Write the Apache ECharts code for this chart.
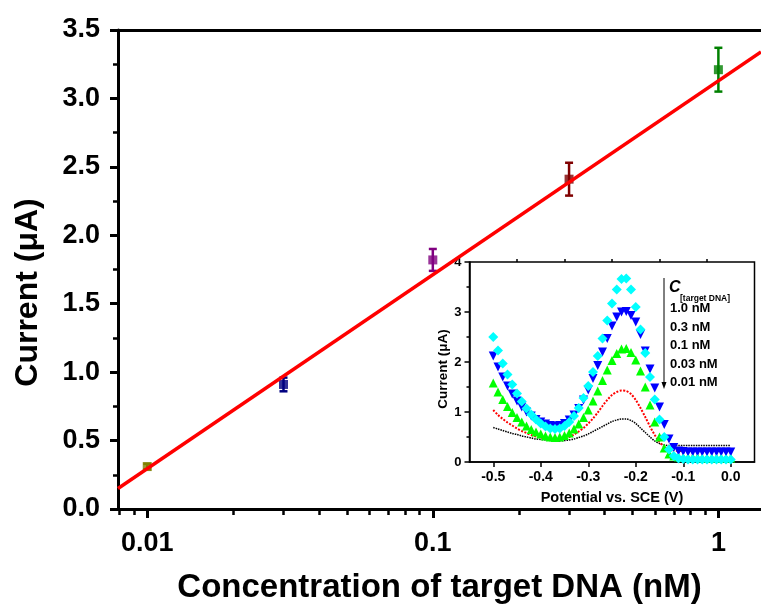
<!DOCTYPE html>
<html>
<head>
<meta charset="utf-8">
<script src="https://cdn.jsdelivr.net/npm/echarts@6/dist/echarts.min.js"></script>
<style>
html,body{margin:0;padding:0;background:#fff;}
#main{width:761px;height:611px;}
</style>
</head>
<body>
<div id="main"></div>
<script>
// 主图：浓度与电流
var conc = [0.01, 0.03, 0.1, 0.3, 1];
var current = [0.31, 0.91, 1.82, 2.41, 3.21];
var errs = [0.02, 0.05, 0.08, 0.12, 0.16];
var pointColors = ['#808000', '#000080', '#800080', '#800000', '#008000'];
// 拟合直线两端
var fitX = [0.0079, 1.41];
var fitY = [0.15, 3.34];
var xMajor = [0.01, 0.1, 1];
var xMinor = [0.008, 0.009, 0.02, 0.03, 0.04, 0.05, 0.06, 0.07, 0.08, 0.09,
    0.2, 0.3, 0.4, 0.5, 0.6, 0.7, 0.8, 0.9];

// 插图：DPV 曲线
var potential = [-0.50, -0.49, -0.48, -0.47, -0.46, -0.45, -0.44, -0.43, -0.42, -0.41,
    -0.40, -0.39, -0.38, -0.37, -0.36, -0.35, -0.34, -0.33, -0.32, -0.31,
    -0.30, -0.29, -0.28, -0.27, -0.26, -0.25, -0.24, -0.23, -0.22, -0.21,
    -0.20, -0.19, -0.18, -0.17, -0.16, -0.15, -0.14, -0.13, -0.12, -0.11,
    -0.10, -0.09, -0.08, -0.07, -0.06, -0.05, -0.04, -0.03, -0.02, -0.01, 0.00];
var c001 = [0.69, 0.66, 0.63, 0.60, 0.57, 0.55, 0.52, 0.50, 0.48, 0.46, 0.45,
    0.44, 0.43, 0.42, 0.42, 0.43, 0.44, 0.46, 0.49, 0.52, 0.56,
    0.61, 0.66, 0.71, 0.76, 0.81, 0.84, 0.86, 0.86, 0.83, 0.77,
    0.68, 0.59, 0.50, 0.42, 0.37, 0.34, 0.33, 0.33, 0.33, 0.33,
    0.33, 0.33, 0.33, 0.33, 0.33, 0.33, 0.33, 0.33, 0.33, 0.33];
var c003 = [1.04, 0.94, 0.86, 0.79, 0.73, 0.67, 0.62, 0.58, 0.54, 0.51, 0.49,
    0.47, 0.46, 0.45, 0.46, 0.48, 0.50, 0.55, 0.61, 0.68, 0.77,
    0.87, 0.99, 1.12, 1.24, 1.34, 1.40, 1.43, 1.42, 1.36, 1.24,
    1.08, 0.90, 0.71, 0.54, 0.40, 0.30, 0.25, 0.23, 0.22, 0.22,
    0.22, 0.22, 0.22, 0.22, 0.22, 0.22, 0.22, 0.22, 0.22, 0.22];
var c01 = [1.58, 1.40, 1.25, 1.11, 0.99, 0.89, 0.80, 0.72, 0.65, 0.60, 0.56,
    0.52, 0.50, 0.49, 0.50, 0.53, 0.58, 0.66, 0.76, 0.89, 1.04,
    1.22, 1.42, 1.63, 1.84, 2.03, 2.17, 2.26, 2.27, 2.19, 2.04,
    1.82, 1.50, 1.14, 0.80, 0.50, 0.28, 0.16, 0.12, 0.10, 0.09,
    0.09, 0.09, 0.09, 0.08, 0.08, 0.08, 0.08, 0.08, 0.08, 0.08];
var c03 = [2.12, 1.90, 1.70, 1.52, 1.36, 1.22, 1.10, 1.00, 0.92, 0.85, 0.80,
    0.76, 0.73, 0.72, 0.73, 0.77, 0.84, 0.94, 1.07, 1.24, 1.44,
    1.67, 1.93, 2.20, 2.47, 2.72, 2.90, 3.00, 3.01, 2.93, 2.80,
    2.55, 2.22, 1.86, 1.48, 1.10, 0.75, 0.46, 0.29, 0.22, 0.21,
    0.20, 0.20, 0.20, 0.20, 0.20, 0.20, 0.20, 0.20, 0.20, 0.20];
var c1 = [2.50, 2.23, 1.97, 1.75, 1.55, 1.37, 1.21, 1.07, 0.95, 0.85, 0.77,
    0.71, 0.67, 0.66, 0.67, 0.72, 0.80, 0.92, 1.08, 1.28, 1.52,
    1.80, 2.12, 2.47, 2.83, 3.17, 3.45, 3.66, 3.67, 3.45, 3.10,
    2.65, 2.18, 1.70, 1.25, 0.85, 0.50, 0.25, 0.12, 0.07, 0.06,
    0.05, 0.05, 0.05, 0.05, 0.05, 0.05, 0.05, 0.05, 0.05, 0.05];
var insetMajor = [-0.5, -0.4, -0.3, -0.2, -0.1, 0.0];
var insetMinor = [-0.45, -0.35, -0.25, -0.15, -0.05];
var legendLines = ['1.0 nM', '0.3 nM', '0.1 nM', '0.03 nM', '0.01 nM'];

var FONT = '"Liberation Sans", Arial, sans-serif';

function pairs(xs, ys) {
    var out = [];
    for (var i = 0; i < xs.length; i++) out.push([xs[i], ys[i]]);
    return out;
}

var myChart = echarts.init(document.getElementById('main'));

var pointData = [];
for (var i = 0; i < conc.length; i++) {
    pointData.push({value: [conc[i], current[i]], itemStyle: {color: pointColors[i]}});
}
var errData = [];
for (var j = 0; j < conc.length; j++) {
    errData.push([conc[j], current[j], errs[j]]);
}

var mainX = {
    type: 'log', gridIndex: 0, min: 0.0079, max: 1.41, logBase: 10
};

var option = {
    animation: false,
    backgroundColor: '#fff',
    grid: [
        {left: 118, top: 30, right: 0, bottom: 102},
        {left: 469.5, top: 262, width: 285, height: 200, show: true,
            backgroundColor: '#fff', borderColor: '#000', borderWidth: 1.5}
    ],
    xAxis: [
        Object.assign({}, mainX, {
            position: 'bottom',
            name: 'Concentration of target DNA (nM)',
            nameLocation: 'middle', nameGap: 62,
            nameTextStyle: {fontFamily: FONT, fontWeight: 'bold', fontSize: 33, color: '#000'},
            axisLine: {lineStyle: {color: '#000', width: 3}},
            axisTick: {customValues: xMajor, length: 9, lineStyle: {width: 3, color: '#000'}},
            axisLabel: {customValues: xMajor, margin: 21, fontFamily: FONT, fontWeight: 'bold',
                fontSize: 27, color: '#000', formatter: function (v) { return String(+v.toPrecision(3)); }},
            splitLine: {show: false}
        }),
        Object.assign({}, mainX, {
            position: 'bottom',
            axisLine: {show: false},
            axisTick: {customValues: xMinor, length: 6, lineStyle: {width: 2.5, color: '#000'}},
            axisLabel: {show: false},
            splitLine: {show: false}
        }),
        Object.assign({}, mainX, {
            position: 'top',
            axisLine: {lineStyle: {color: '#000', width: 3}},
            axisTick: {show: false},
            axisLabel: {show: false},
            splitLine: {show: false}
        }),
        {
            type: 'value', gridIndex: 1, min: -0.55, max: 0.05,
            name: 'Potential vs. SCE (V)', nameLocation: 'middle', nameGap: 28,
            nameTextStyle: {fontFamily: FONT, fontWeight: 'bold', fontSize: 14.5, color: '#000'},
            axisLine: {onZero: false, lineStyle: {color: '#000', width: 1.5}},
            axisTick: {customValues: insetMajor, length: 5, lineStyle: {width: 1.5, color: '#000'}},
            axisLabel: {customValues: insetMajor, margin: 8, fontFamily: FONT, fontWeight: 'bold',
                fontSize: 14, color: '#000', formatter: function (v) { return v.toFixed(1); }},
            splitLine: {show: false}
        },
        {
            type: 'value', gridIndex: 1, min: -0.55, max: 0.05,
            axisLine: {show: false, onZero: false},
            axisTick: {customValues: insetMinor, length: 3, lineStyle: {width: 1.5, color: '#000'}},
            axisLabel: {show: false},
            splitLine: {show: false}
        }
    ],
    yAxis: [
        {
            type: 'value', gridIndex: 0, min: 0, max: 3.5, interval: 0.5,
            name: 'Current (\u03bcA)', nameLocation: 'middle', nameGap: 74,
            nameTextStyle: {fontFamily: FONT, fontWeight: 'bold', fontSize: 32, color: '#000',
                padding: [0, 46, 0, 0]},
            axisLine: {show: true, onZero: false, lineStyle: {color: '#000', width: 3}},
            axisTick: {show: true, length: 8, lineStyle: {width: 3, color: '#000'}},
            minorTick: {show: true, splitNumber: 2, length: 5, lineStyle: {width: 2.5, color: '#000'}},
            axisLabel: {margin: 18, fontFamily: FONT, fontWeight: 'bold', fontSize: 27, color: '#000',
                formatter: function (v) { return v.toFixed(1); }},
            splitLine: {show: false}
        },
        {
            type: 'value', gridIndex: 1, min: 0, max: 4, interval: 1,
            name: 'Current (\u03bcA)', nameLocation: 'middle', nameGap: 19,
            nameTextStyle: {fontFamily: FONT, fontWeight: 'bold', fontSize: 13.5, color: '#000',
                padding: [0, 14, 0, 0]},
            axisLine: {show: true, onZero: false, lineStyle: {color: '#000', width: 1.5}},
            axisTick: {show: true, length: 5, lineStyle: {width: 1.5, color: '#000'}},
            minorTick: {show: true, splitNumber: 2, length: 3, lineStyle: {width: 1.5, color: '#000'}},
            axisLabel: {margin: 8, fontFamily: FONT, fontWeight: 'bold', fontSize: 13, color: '#000'},
            splitLine: {show: false}
        }
    ],
    graphic: [
        {type: 'line', z: 100, shape: {x1: 664, y1: 278, x2: 664, y2: 384},
            style: {stroke: '#000', lineWidth: 1}},
        {type: 'polygon', z: 100, shape: {points: [[661.5, 382], [666.5, 382], [664, 389]]},
            style: {fill: '#000'}},
        {type: 'text', z: 100, left: 669, top: 280,
            style: {text: 'C', fontFamily: FONT, fontWeight: 'bold', fontStyle: 'italic', fontSize: 16, fill: '#000'}},
        {type: 'text', z: 100, left: 680, top: 294,
            style: {text: '[target DNA]', fontFamily: FONT, fontWeight: 'bold', fontSize: 8.5, fill: '#000'}}
    ],
    series: [
        {
            type: 'custom', xAxisIndex: 0, yAxisIndex: 0, z: 3,
            data: errData,
            renderItem: function (params, api) {
                var x = api.value(0), y = api.value(1), e = api.value(2);
                var top = api.coord([x, y + e]);
                var bot = api.coord([x, y - e]);
                var c = pointColors[params.dataIndex];
                var st = {stroke: c, lineWidth: 2.5};
                return {
                    type: 'group',
                    children: [
                        {type: 'line', shape: {x1: top[0], y1: top[1], x2: bot[0], y2: bot[1]}, style: st},
                        {type: 'line', shape: {x1: top[0] - 4, y1: top[1], x2: top[0] + 4, y2: top[1]}, style: st},
                        {type: 'line', shape: {x1: bot[0] - 4, y1: bot[1], x2: bot[0] + 4, y2: bot[1]}, style: st}
                    ]
                };
            }
        },
        {
            type: 'scatter', xAxisIndex: 0, yAxisIndex: 0, z: 4,
            symbol: 'rect', symbolSize: 9,
            data: pointData
        },
        {
            type: 'line', xAxisIndex: 0, yAxisIndex: 0, z: 5,
            data: pairs(fitX, fitY), showSymbol: false, symbol: 'none',
            lineStyle: {color: '#ff0000', width: 3.5}
        },
        {
            type: 'line', xAxisIndex: 3, yAxisIndex: 1, z: 20,
            data: pairs(potential, c001), symbol: 'none', smooth: 0.3,
            lineStyle: {color: '#000', width: 1.5, type: [1.5, 1]}
        },
        {
            type: 'line', xAxisIndex: 3, yAxisIndex: 1, z: 21,
            data: pairs(potential, c003), symbol: 'none', smooth: 0.3,
            lineStyle: {color: '#ff0000', width: 2, type: [2, 1.5]}
        },
        {
            type: 'scatter', xAxisIndex: 3, yAxisIndex: 1, z: 22,
            data: pairs(potential, c01), symbol: 'triangle', symbolSize: 9,
            itemStyle: {color: '#00ff00', opacity: 1}
        },
        {
            type: 'scatter', xAxisIndex: 3, yAxisIndex: 1, z: 23,
            data: pairs(potential, c03), symbol: 'triangle', symbolSize: 9, symbolRotate: 180,
            itemStyle: {color: '#0000ff', opacity: 1}
        },
        {
            type: 'scatter', xAxisIndex: 3, yAxisIndex: 1, z: 24,
            data: pairs(potential, c1), symbol: 'diamond', symbolSize: 10,
            itemStyle: {color: '#00ffff', opacity: 1}
        }
    ]
};

// 图例文字
for (var k = 0; k < legendLines.length; k++) {
    option.graphic.push({
        type: 'text', z: 100, left: 670, top: 302 + k * 18.6,
        style: {text: legendLines[k], fontFamily: FONT, fontWeight: 'bold', fontSize: 13, fill: '#000'}
    });
}

myChart.setOption(option);
</script>
</body>
</html>
